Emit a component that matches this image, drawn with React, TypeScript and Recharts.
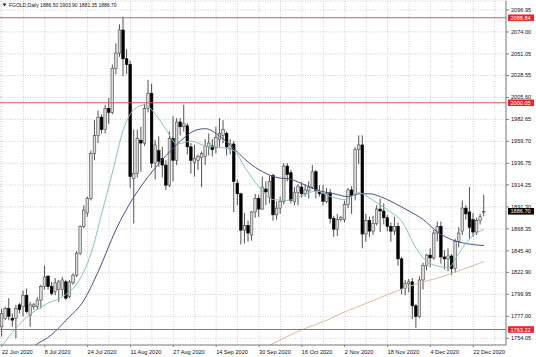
import React from 'react';
import { ComposedChart, Bar, Line, XAxis, YAxis, CartesianGrid, ReferenceLine } from 'recharts';

// daily bars, 22 Jun 2020 -> end of Dec 2020 (one short Sunday bar on 1 Nov)
const opens = [
  1766, 1775, 1785, 1775, 1775, 1789, 1787, 1799, 1778, 1787,
  1787, 1794, 1808, 1819, 1808, 1803, 1805, 1805, 1813, 1798,
  1812, 1820, 1843, 1871, 1885, 1900, 1947, 1966, 1985, 1972,
  1994, 1990, 2036, 2052, 2076, 2046, 2040, 1921, 1926, 1961,
  1958, 1994, 2010, 1937, 1950, 1942, 1935, 1914, 1963, 1940,
  1980, 1975, 1976, 1954, 1938, 1940, 1943, 1944, 1954, 1955,
  1953, 1962, 1966, 1968, 1952, 1957, 1916, 1905, 1867, 1872,
  1862, 1886, 1900, 1889, 1910, 1901, 1924, 1883, 1890, 1897,
  1934, 1927, 1897, 1906, 1912, 1905, 1908, 1912, 1928, 1907,
  1905, 1897, 1906, 1879, 1868, 1878, 1878, 1894, 1909, 1904,
  1951, 1956, 1863, 1877, 1866, 1874, 1889, 1887, 1880, 1871,
  1866, 1871, 1837, 1806, 1811, 1813, 1788, 1777, 1815, 1830,
  1841, 1838, 1864, 1871, 1839, 1837, 1840, 1827, 1855, 1866,
  1890, 1886, 1878, 1865, 1877, 1886.5,
];
const highs = [
  1785, 1787, 1796, 1780, 1789, 1791, 1804, 1806, 1792, 1791,
  1797, 1810, 1830, 1820, 1813, 1817, 1815, 1818, 1815, 1815,
  1822, 1845, 1872, 1893, 1902, 1950, 1982, 1992, 1988, 1998,
  2005, 2040, 2062, 2082, 2090, 2056, 2044, 1972, 1972, 1975,
  1999, 2024, 2020, 1961, 1965, 1954, 1940, 1970, 1986, 1984,
  1984, 1998, 1979, 1958, 1956, 1946, 1949, 1962, 1968, 1962,
  1975, 1984, 1982, 1970, 1962, 1960, 1920, 1906, 1885, 1877,
  1887, 1905, 1904, 1923, 1918, 1924, 1926, 1897, 1902, 1937,
  1937, 1930, 1912, 1915, 1917, 1915, 1918, 1935, 1930, 1914,
  1914, 1911, 1910, 1882, 1884, 1882, 1898, 1911, 1913, 1954,
  1966, 1966, 1884, 1881, 1882, 1893, 1900, 1895, 1883, 1875,
  1881, 1875, 1839, 1815, 1816, 1817, 1790, 1819, 1833, 1842,
  1848, 1867, 1876, 1876, 1846, 1848, 1842, 1858, 1870, 1898,
  1893, 1912, 1885, 1880, 1884, 1903.9,
];
const lows = [
  1756, 1773, 1773, 1766, 1754, 1780, 1777, 1780, 1766, 1784,
  1784, 1785, 1805, 1805, 1799, 1799, 1792, 1798, 1794, 1796,
  1810, 1818, 1841, 1869, 1881, 1898, 1940, 1958, 1968, 1968,
  1978, 1988, 2030, 2048, 2028, 2030, 1911, 1874, 1922, 1928,
  1955, 1990, 1932, 1920, 1933, 1922, 1909, 1912, 1918, 1935,
  1966, 1970, 1946, 1926, 1923, 1930, 1912, 1935, 1945, 1944,
  1947, 1954, 1958, 1945, 1946, 1886, 1893, 1852, 1853, 1855,
  1856, 1880, 1881, 1888, 1893, 1895, 1877, 1878, 1884, 1894,
  1918, 1895, 1893, 1893, 1901, 1902, 1900, 1910, 1900, 1902,
  1893, 1895, 1874, 1860, 1861, 1876, 1875, 1890, 1884, 1898,
  1936, 1848, 1855, 1860, 1862, 1872, 1865, 1873, 1866, 1855,
  1862, 1830, 1800, 1799, 1802, 1774, 1765, 1775, 1805, 1825,
  1828, 1836, 1855, 1832, 1826, 1824, 1820, 1823, 1849, 1862,
  1878, 1858, 1860, 1862, 1873, 1881.35,
];
const closes = [
  1780, 1785, 1777, 1773, 1785, 1784, 1799, 1782, 1789, 1789,
  1794, 1808, 1818, 1808, 1801, 1812, 1813, 1815, 1796, 1813,
  1820, 1843, 1871, 1888, 1900, 1947, 1966, 1985, 1972, 1994,
  1990, 2036, 2052, 2076, 2046, 2040, 1923, 1926, 1963, 1958,
  1994, 2010, 1937, 1956, 1939, 1935, 1914, 1963, 1940, 1980,
  1975, 1978, 1954, 1940, 1942, 1944, 1947, 1955, 1958, 1951,
  1964, 1968, 1972, 1954, 1957, 1918, 1905, 1867, 1872, 1864,
  1886, 1900, 1889, 1912, 1907, 1918, 1883, 1890, 1897, 1934,
  1925, 1898, 1906, 1913, 1905, 1909, 1912, 1928, 1908, 1905,
  1897, 1905, 1879, 1868, 1878, 1880, 1894, 1909, 1903, 1951,
  1956, 1863, 1877, 1866, 1874, 1889, 1887, 1880, 1871, 1866,
  1871, 1837, 1806, 1811, 1813, 1788, 1777, 1815, 1830, 1841,
  1838, 1864, 1871, 1839, 1837, 1840, 1827, 1855, 1864, 1890,
  1884, 1870, 1865, 1877, 1881, 1886.7,
];

// moving averages as [bar, price]
const fastMA = [
  [0, 1746], [6, 1773], [12, 1789], [18, 1800], [21, 1811], [25, 1843], [28, 1885],
  [31, 1928], [34, 1972], [37, 1993], [40, 1998], [43, 1988], [46, 1972], [49, 1957],
  [53, 1960], [57, 1955], [62, 1953], [65, 1950], [68, 1933], [72, 1912], [76, 1899],
  [80, 1898], [84, 1903], [88, 1908], [92, 1902], [96, 1899], [100, 1906], [104, 1898],
  [108, 1888], [112, 1876], [116, 1848], [118, 1838], [120, 1832], [125, 1828],
  [128, 1843], [131, 1858], [135, 1868],
];
const midMA = [
  [5, 1734], [9, 1746], [14, 1758], [18, 1773], [23, 1794], [27, 1824], [32, 1868],
  [37, 1902], [41, 1923], [46, 1945], [50, 1960], [54, 1971], [57, 1973], [61, 1965],
  [65, 1952], [69, 1938], [73, 1928], [77, 1922], [81, 1920], [85, 1914], [89, 1908],
  [93, 1905], [97, 1902], [100, 1905], [103, 1905], [106, 1902], [110, 1895],
  [114, 1887], [118, 1878], [122, 1865], [126, 1857], [130, 1853], [135, 1851],
];
const slowMA = [
  [70, 1739], [75, 1747], [84, 1763], [91, 1773], [95, 1780], [103, 1792],
  [111, 1804], [117, 1812], [123, 1818], [129, 1826], [135, 1834],
];

const dateLabels = [
  '22 Jun 2020', '8 Jul 2020', '24 Jul 2020', '11 Aug 2020', '27 Aug 2020', '14 Sep 2020',
  '30 Sep 2020', '16 Oct 2020', '2 Nov 2020', '18 Nov 2020', '4 Dec 2020', '22 Dec 2020',
];
const priceTicks = [
  2096.95, 2074.0, 2051.05, 2028.55, 2005.6, 1982.65, 1959.7, 1936.75,
  1914.25, 1891.3, 1868.35, 1845.4, 1822.9, 1799.95, 1777.0, 1754.05,
];
const levelLines = [2088.84, 2000.05, 1763.22];
const lastPrice = 1886.7;
const title = 'FGOLD,Daily 1886.50 1903.90 1881.35 1886.70';

const FONT = '"Liberation Sans", Arial, sans-serif';

const rows: any[] = opens.map((o, i) => ({
  i,
  o,
  h: highs[i],
  l: lows[i],
  c: closes[i],
  range: [lows[i], highs[i]],
  fast: null,
  mid: null,
  slow: null,
}));
fastMA.forEach(([i, v]) => (rows[i].fast = v));
midMA.forEach(([i, v]) => (rows[i].mid = v));
slowMA.forEach(([i, v]) => (rows[i].slow = v));

// grid every 6 bars, date label every 12
const gridIdx: number[] = [];
for (let k = 0; k * 6 < opens.length + 4; k++) gridIdx.push(k * 6);

const Candle = (props: any) => {
  const { x, y, width, height, payload } = props;
  if (x == null || y == null) return null;
  const top = Math.min(y, y + height);
  const hgt = Math.abs(height);
  const cx = x + width / 2;
  const { o, h, l, c } = payload;
  const k = h - l === 0 ? 0 : hgt / (h - l);
  const yO = top + (h - o) * k;
  const yC = top + (h - c) * k;
  const up = c >= o;
  const bodyTop = Math.min(yO, yC);
  const bodyH = Math.max(Math.abs(yC - yO), 0.8);
  return (
    <g>
      <line x1={cx} x2={cx} y1={top} y2={top + hgt} stroke="#262626" strokeWidth={0.8} />
      <rect
        x={cx - 1.3}
        y={bodyTop}
        width={2.6}
        height={bodyH}
        fill={up ? '#d9d9d9' : '#000'}
        stroke={up ? '#4a4a4a' : '#000'}
        strokeWidth={0.6}
      />
    </g>
  );
};

const PriceTick = (props: any) => {
  const { x, y, payload } = props;
  return (
    <g>
      <line x1={x} x2={x + 3} y1={y} y2={y} stroke="#808080" />
      <text x={x + 5} y={y + 2} fontSize={5.6} fill="#111" fontFamily={FONT}>
        {Number(payload.value).toFixed(2)}
      </text>
    </g>
  );
};

const DateTick = (props: any) => {
  const { x, y, payload } = props;
  const k = payload.value / 12;
  if (!Number.isInteger(k) || !dateLabels[k]) return <g />;
  return (
    <g>
      <line x1={x} x2={x} y1={y} y2={y + 2} stroke="#808080" />
      <text x={x} y={y + 9.3} fontSize={5.6} fill="#111" fontFamily={FONT} textAnchor="start">
        {dateLabels[k]}
      </text>
    </g>
  );
};

const tag = (value: number, fill: string) => (p: any) => {
  const vb = p.viewBox || {};
  const x = vb.x + vb.width + 2;
  const y = vb.y;
  return (
    <g>
      <rect x={x} y={y - 3.3} width={26} height={6.6} fill={fill} />
      <text x={x + 2.5} y={y + 2} fontSize={5.6} fill="#fff" fontFamily={FONT}>
        {value.toFixed(2)}
      </text>
    </g>
  );
};

export default function App() {
  return (
    <div style={{ position: 'absolute', left: 0, top: 0, width: 536, height: 357, background: '#fff' }}>
      <ComposedChart width={536} height={357} data={rows} margin={{ top: 1, right: 0, bottom: 0, left: 0 }}>
        <CartesianGrid stroke="#cfcfcf" strokeDasharray="1 1.5" />
        <XAxis
          dataKey="i"
          type="number"
          domain={[-0.53, 141.16]}
          allowDataOverflow
          ticks={gridIdx}
          interval={0}
          height={12}
          tickSize={0}
          tickMargin={0}
          tick={<DateTick />}
          axisLine={{ stroke: '#808080' }}
        />
        <YAxis
          orientation="right"
          type="number"
          domain={[1747.05, 2106.35]}
          allowDataOverflow
          ticks={priceTicks}
          interval={0}
          width={30}
          tickSize={0}
          tickMargin={0}
          tick={<PriceTick />}
          axisLine={{ stroke: '#808080' }}
        />
        <Bar dataKey="range" shape={<Candle />} barSize={3} isAnimationActive={false} />
        <Line dataKey="slow" type="monotone" connectNulls dot={false} stroke="#d6bf9f" strokeWidth={1} isAnimationActive={false} />
        <Line dataKey="mid" type="monotone" connectNulls dot={false} stroke="#4b4f7e" strokeWidth={1} isAnimationActive={false} />
        <Line dataKey="fast" type="monotone" connectNulls dot={false} stroke="#8cc2b6" strokeWidth={1} isAnimationActive={false} />
        {levelLines.map((lv) => (
          <ReferenceLine key={lv} y={lv} stroke="#cf5a5a" strokeWidth={1} label={{ content: tag(lv, '#e8262b') }} />
        ))}
        <ReferenceLine y={lastPrice} stroke="none" label={{ content: tag(lastPrice, '#000') }} />
      </ComposedChart>
      <svg width={536} height={10} style={{ position: 'absolute', left: 0, top: 0, pointerEvents: 'none' }}>
        <polygon points="2.5,3.5 6.5,3.5 4.5,6.5" fill="#222" />
        <text x={9} y={7.4} fontSize={5} fill="#111" fontFamily={FONT}>
          {title}
        </text>
      </svg>
    </div>
  );
}
